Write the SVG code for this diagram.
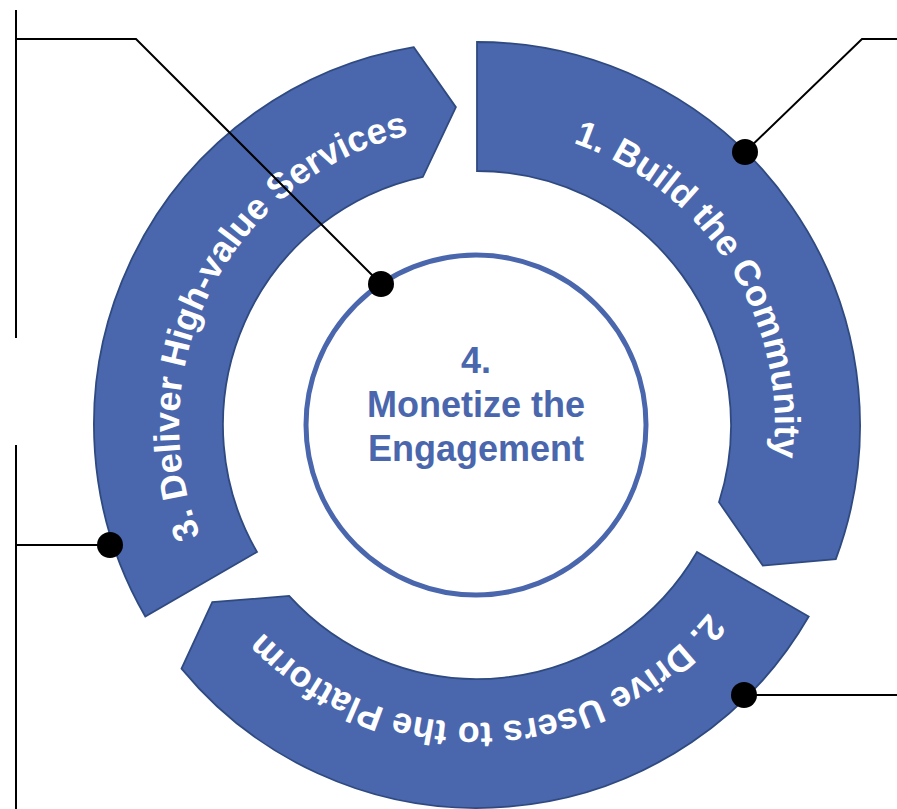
<svg xmlns="http://www.w3.org/2000/svg" width="897" height="809" viewBox="0 0 897 809">
<style>
.seg{fill:#4A67AD;stroke:#2F4A80;stroke-width:1.8;stroke-linejoin:miter}
.arct{font-family:"Liberation Sans",Arial,sans-serif;font-weight:bold;font-size:36px;fill:#FFFFFF}
.ctr{font-family:"Liberation Sans",Arial,sans-serif;font-weight:bold;font-size:36px;fill:#4A67AD;text-anchor:middle}
.ln{fill:none;stroke:#000;stroke-width:2}
.dot{fill:#000}
</style>
<defs>
<path id="tp1" d="M 438.1 129.6 A 298 298 0 0 1 728.3 585.1"/>
<path id="tp2" d="M 752.3 539.0 A 298 298 0 0 1 212.7 562.6"/>
<path id="tp3" d="M 240.6 606.4 A 298 298 0 0 1 490.0 127.3"/>
</defs>
<rect width="897" height="809" fill="#FFFFFF"/>
<g id="seg1">
<path class="seg" d="M 477 42 A 383 383 0 0 1 835.8 559.1 L 762.8 565.6 L 719.0 502.2 A 254 254 0 0 0 477 171 Z"/>
<text class="arct"><textPath href="#tp1" startOffset="50%" text-anchor="middle">1. Build the Community</textPath></text>
</g>
<g id="seg2">
<path class="seg" d="M 808.7 616.5 A 383 383 0 0 1 181.5 668.6 L 212.3 602.2 L 289.1 595.9 A 254 254 0 0 0 697.0 552.0 Z"/>
<text class="arct"><textPath href="#tp2" startOffset="50%" text-anchor="middle">2. Drive Users to the Platform</textPath></text>
</g>
<g id="seg3">
<path class="seg" d="M 145.3 616.5 A 383 383 0 0 1 413.8 47.2 L 455.9 107.2 L 422.9 176.8 A 254 254 0 0 0 257.0 552.0 Z"/>
<text class="arct"><textPath href="#tp3" startOffset="50%" text-anchor="middle">3. Deliver High-value Services</textPath></text>
</g>
<g id="center">
<circle cx="476" cy="425" r="170" fill="#FFFFFF" stroke="#4A67AD" stroke-width="5"/>
<text class="ctr" x="476" y="373">4.</text>
<text class="ctr" x="476" y="417">Monetize the</text>
<text class="ctr" x="476" y="461">Engagement</text>
</g>
<g id="connectors">
<polyline class="ln" points="16,10 16,338"/>
<polyline class="ln" points="16,39 136,39 381,284"/>
<polyline class="ln" points="16,445 16,809"/>
<polyline class="ln" points="16,545 110,545"/>
<polyline class="ln" points="897,39 862,39 745,152"/>
<polyline class="ln" points="744,695 897,695"/>
<circle class="dot" cx="381" cy="284" r="13"/>
<circle class="dot" cx="110" cy="545" r="13"/>
<circle class="dot" cx="745" cy="152" r="13"/>
<circle class="dot" cx="744" cy="695" r="13"/>
</g>
</svg>
